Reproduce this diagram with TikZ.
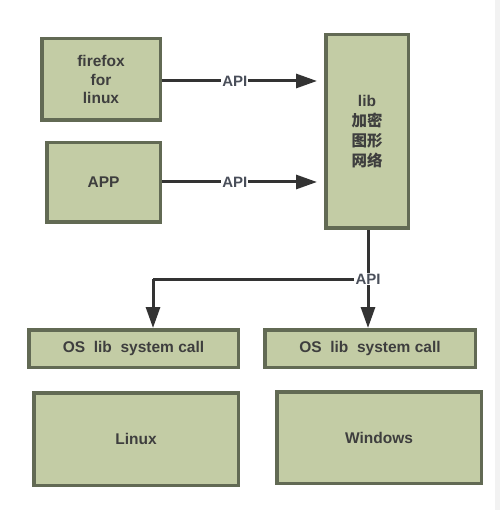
\documentclass[tikz,border=0pt]{standalone}
\usepackage{fontspec}
\setmainfont{Liberation Sans}
\newfontfamily\cjk{Noto Sans CJK SC}
\usetikzlibrary{arrows.meta}
\definecolor{boxfill}{HTML}{C3CCA5}
\definecolor{boxline}{HTML}{626A54}
\definecolor{txt}{HTML}{3E3E3E}
\definecolor{apitxt}{HTML}{4A4F5A}
\definecolor{arr}{HTML}{333333}
\definecolor{strip}{HTML}{F2F2F2}
\tikzset{
  gbox/.style={draw=boxline, line width=3.5pt, fill=boxfill, text=txt,
    font=\bfseries\fontsize{15.5}{18.5}\selectfont, align=center, inner sep=0pt},
  conn/.style={draw=arr, line width=3pt},
  arrowconn/.style={conn, -{Triangle[length=21pt,width=14pt]}},
  apilabel/.style={fill=white, text=apitxt, font=\bfseries\fontsize{15}{18}\selectfont, inner sep=1pt}
}
\begin{document}
\begin{tikzpicture}[x=1pt,y=-1pt]
\useasboundingbox (0,0) rectangle (500,510);
\fill[white] (0,0) rectangle (500,510);
\fill[strip] (495,0) rectangle (500,510);

\node[gbox, minimum width=118.5pt, minimum height=81.5pt] (ff) at (101,79.5) {firefox\\for\\linux};
\node[gbox, minimum width=113.5pt, minimum height=79.5pt] (app) at (103.5,182.5) {APP};
\node[gbox, minimum width=82.5pt, minimum height=193.5pt, font=\bfseries\fontsize{15.5}{20}\selectfont] (lib) at (367,131.5) {lib\\{\cjk 加密}\\{\cjk 图形}\\{\cjk 网络}};
\node[gbox, minimum width=209.5pt, minimum height=37.5pt] (os1) at (133.5,348.5) {OS\ \ lib\ \ system call};
\node[gbox, minimum width=210.5pt, minimum height=37.5pt] (os2) at (370,348.5) {OS\ \ lib\ \ system call};
\node[gbox, minimum width=204.5pt, minimum height=92.5pt] (linux) at (136,439) {Linux};
\node[gbox, minimum width=204.5pt, minimum height=91.5pt] (win) at (379,437.5) {Windows};

% top arrows
\coordinate (a1s) at (162,81);
\coordinate (a1e) at (317,81);
\draw[arrowconn] (a1s) -- node[apilabel, pos=0.47] (api1) {API} (a1e);
\coordinate (a2s) at (162,182);
\coordinate (a2e) at (317,182);
\draw[arrowconn] (a2s) -- node[apilabel, pos=0.47] (api2) {API} (a2e);

% bottom split
\node[apilabel] (api3) at (368,279) {API};
\coordinate (corner) at (153,279);
\draw[conn] (lib.south -| api3) -- (api3);
\draw[conn] (api3) -- (corner);
\draw[arrowconn] (corner) -- (corner |- os1.north);
\draw[arrowconn] (api3) -- (api3 |- os2.north);
\end{tikzpicture}
\end{document}
